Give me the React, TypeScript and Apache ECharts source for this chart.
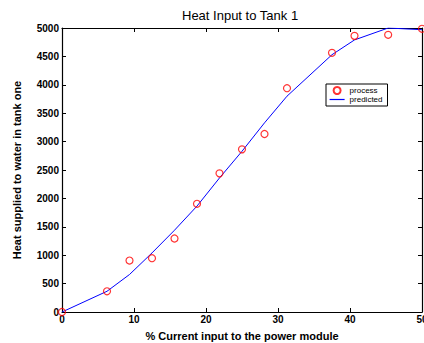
import React, { useEffect, useRef } from "react";
import * as echarts from "echarts";

const processX = [0, 6.25, 9.375, 12.5, 15.625, 18.75, 21.875, 25, 28.125, 31.25, 37.5, 40.625, 45.3, 50];
const processY = [0, 365, 906, 947, 1294, 1905, 2441, 2864, 3134, 3940, 4563, 4862, 4880, 4986];
const predictedX = [0, 6.25, 9.375, 12.5, 15.625, 18.75, 21.875, 25, 28.125, 31.25, 37.5, 40.625, 45.3, 50];
const predictedY = [0, 365, 660, 1040, 1440, 1865, 2360, 2830, 3330, 3800, 4530, 4790, 5000, 4970];

const TITLE = "Heat Input to Tank 1";
const X_NAME = "% Current input to the power module";
const Y_NAME = "Heat supplied to water in tank one";

const FONT = "'Liberation Sans', Arial, Helvetica, sans-serif";

export default function App() {
  const ref = useRef<HTMLDivElement>(null);
  useEffect(() => {
    if (!ref.current) return;
    const chart = echarts.init(ref.current, undefined, { renderer: "svg" });
    const axisLine = { show: true, onZero: false, lineStyle: { color: "#000", width: 1.2 } };
    const tick = { show: true, inside: true, length: 4, lineStyle: { color: "#000", width: 1 } };
    const labelStyle = {
      color: "#000",
      fontSize: 10,
      fontWeight: "bold" as const,
      fontFamily: FONT,
      formatter: (v: number) => String(v),
    };
    chart.setOption({
      animation: false,
      backgroundColor: "#fff",
      title: {
        text: TITLE,
        left: 182,
        top: 9,
        padding: 0,
        textStyle: { fontSize: 13, fontWeight: "normal", color: "#000", fontFamily: FONT },
      },
      grid: { left: 62, right: 2, top: 28, bottom: 31, containLabel: false, outerBoundsMode: "none" },
      legend: {
        orient: "vertical",
        left: 326,
        top: 84,
        padding: [2, 5, 2, 3],
        itemGap: 0,
        itemWidth: 15,
        itemHeight: 7,
        borderColor: "#000",
        borderWidth: 1,
        backgroundColor: "#fff",
        textStyle: { fontSize: 8, fontFamily: FONT, color: "#000", lineHeight: 9, padding: [0, 0, 0, 0] },
        data: [
          { name: "process" },
          {
            name: "predicted",
            itemStyle: { color: "rgba(0,0,0,0)", borderColor: "rgba(0,0,0,0)", borderWidth: 0 },
            lineStyle: { color: "#0000ff", width: 1.2 },
          },
        ],
      },
      xAxis: [
        {
          type: "value",
          min: 0,
          max: 50,
          interval: 10,
          position: "bottom",
          name: X_NAME,
          nameLocation: "middle",
          nameGap: 18,
          nameTextStyle: { fontSize: 11, fontWeight: "bold", color: "#000", fontFamily: FONT },
          axisLine,
          axisTick: tick,
          axisLabel: { ...labelStyle, margin: 2 },
          splitLine: { show: false },
        },
        {
          type: "value",
          min: 0,
          max: 50,
          interval: 10,
          position: "top",
          axisLine,
          axisTick: tick,
          axisLabel: { show: false },
          splitLine: { show: false },
        },
      ],
      yAxis: [
        {
          type: "value",
          min: 0,
          max: 5000,
          interval: 500,
          position: "left",
          name: Y_NAME,
          nameLocation: "middle",
          nameGap: 40,
          nameTextStyle: { fontSize: 11, fontWeight: "bold", color: "#000", fontFamily: FONT },
          axisLine,
          axisTick: tick,
          axisLabel: { ...labelStyle, margin: 3 },
          splitLine: { show: false },
        },
        {
          type: "value",
          min: 0,
          max: 5000,
          interval: 500,
          position: "right",
          axisLine,
          axisTick: tick,
          axisLabel: { show: false },
          splitLine: { show: false },
        },
      ],
      series: [
        {
          name: "predicted",
          type: "line",
          symbol: "none",
          data: predictedX.map((x, i) => [x, predictedY[i]]),
          lineStyle: { color: "#0000ff", width: 1 },
          itemStyle: { color: "#0000ff" },
          z: 2,
        },
        {
          name: "process",
          type: "scatter",
          symbol: "circle",
          symbolSize: 7,
          clip: false,
          data: processX.map((x, i) => [x, processY[i]]),
          itemStyle: { color: "rgba(0,0,0,0)", borderColor: "#ff0000", borderWidth: 1.2 },
          z: 3,
        },
      ],
    });
    return () => chart.dispose();
  }, []);
  return (
    <div
      ref={ref}
      style={{ position: "fixed", left: 0, top: 0, width: 424, height: 343, background: "#fff" }}
    />
  );
}
